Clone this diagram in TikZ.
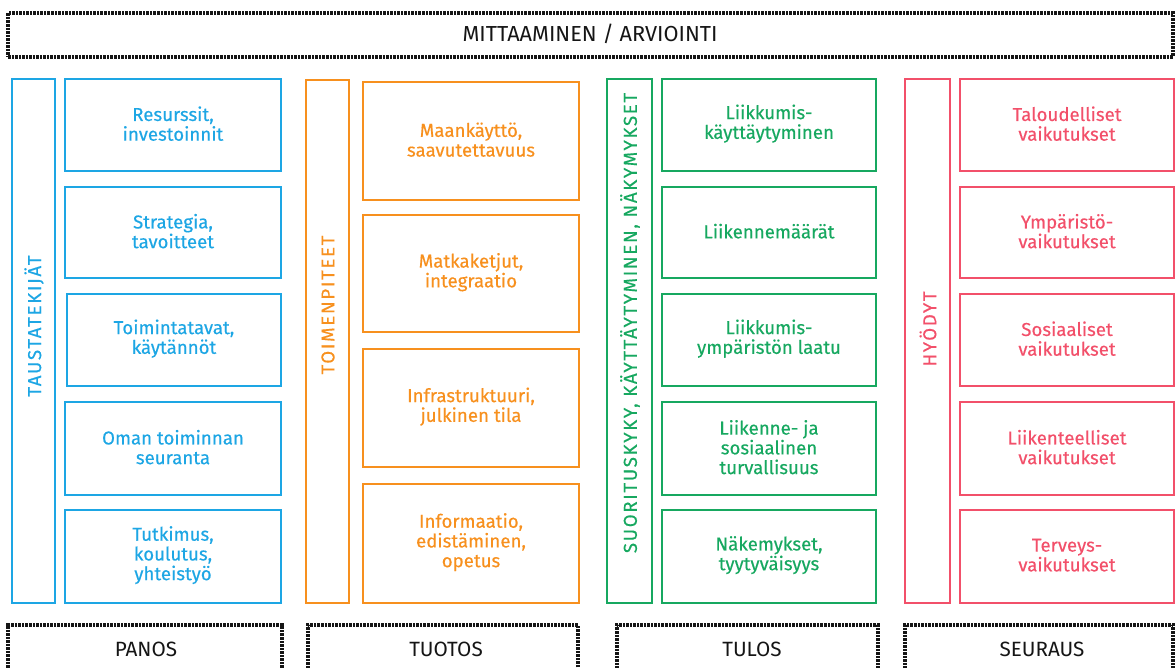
\documentclass[tikz,border=0pt]{standalone}
\usepackage{fontspec}
\setmainfont{Fira Sans}[FakeBold=0.35]
\newfontfamily\spacedfont{Fira Sans}[LetterSpace=9, FakeBold=0.35]
\newfontfamily\plainfont{Fira Sans}
\usetikzlibrary{fit}
\definecolor{cblue}{HTML}{1DA6E4}
\definecolor{corange}{HTML}{F7901E}
\definecolor{cgreen}{HTML}{17A860}
\definecolor{cred}{HTML}{F2506A}
\definecolor{cdark}{HTML}{151515}
\tikzset{
  box/.style={draw, line width=1.5pt, inner sep=0pt},
  bluebox/.style={box, draw=cblue},
  orangebox/.style={box, draw=corange},
  greenbox/.style={box, draw=cgreen},
  redbox/.style={box, draw=cred},
  txt/.style={inner sep=0pt, align=center, font=\fontsize{14}{14.8}\selectfont},
  vlabel/.style={rotate=90, inner sep=0pt, font=\spacedfont\fontsize{14}{15}\selectfont},
  dotbox/.style={draw=cdark, line width=2.8pt, dash pattern=on 1.9pt off 0.75pt, inner sep=0pt},
  dotlabel/.style={text=cdark, inner sep=0pt, font=\plainfont\fontsize{15.5}{16}\selectfont}
}
\begin{document}
\begin{tikzpicture}[x=0.75pt, y=-0.75pt]
\useasboundingbox (0,0) rectangle (1176,667);
\clip (0,0) rectangle (1176,667);
% top
\node[dotbox, fit={(8,13)(1173,57)}] (top) {};
\node[dotlabel, font=\plainfont\fontsize{16.3}{17}\selectfont] (toplab) at (590,34) {MITTAAMINEN / ARVIOINTI};
% bottom
\node[dotbox, fit={(8,625)(282,680)}] (panos) {};
\node[dotlabel] (panoslab) at (146,649) {PANOS};
\node[dotbox, fit={(308,625)(578,680)}] (tuotos) {};
\node[dotlabel] (tuotoslab) at (446,649) {TUOTOS};
\node[dotbox, fit={(617,625)(878,680)}] (tulos) {};
\node[dotlabel] (tuloslab) at (752,649) {TULOS};
\node[dotbox, fit={(905,625)(1173,680)}] (seuraus) {};
\node[dotlabel] (seurauslab) at (1042,649) {SEURAUS};

% blue column
\node[bluebox, fit={(12,79)(55,603)}] (bt) {};
\node[vlabel, text=cblue] (btl) at (34,326) {TAUSTATEKIJÄT};
\node[bluebox, fit={(65,79)(281,171)}] (b1) {};
\node[bluebox, fit={(65,187)(281,278)}] (b2) {};
\node[bluebox, fit={(67,294)(281,386)}] (b3) {};
\node[bluebox, fit={(65,402)(281,495)}] (b4) {};
\node[bluebox, fit={(65,510)(281,603)}] (b5) {};
\begin{scope}[every node/.append style={txt, text=cblue}]
\node (b1t) at ([yshift=1pt]b1.center) {Resurssit,\\investoinnit};
\node (b2t) at ([yshift=1pt]b2.center) {Strategia,\\tavoitteet};
\node (b3t) at ([yshift=1pt]b3.center) {Toimintatavat,\\käytännöt};
\node (b4t) at ([yshift=1pt]b4.center) {Oman toiminnan\\seuranta};
\node (b5t) at ([yshift=1pt]b5.center) {Tutkimus,\\koulutus,\\yhteistyö};
\end{scope}

% orange column
\node[orangebox, fit={(306,80)(349,603)}] (ot) {};
\node[vlabel, text=corange] (otl) at (328,305) {TOIMENPITEET};
\node[orangebox, fit={(363,82)(579,200)}] (o1) {};
\node[orangebox, fit={(363,215)(579,332)}] (o2) {};
\node[orangebox, fit={(363,349)(579,467)}] (o3) {};
\node[orangebox, fit={(363,484)(579,603)}] (o4) {};
\begin{scope}[every node/.append style={txt, text=corange}]
\node (o1t) at ([yshift=1pt]o1.center) {Maankäyttö,\\saavutettavuus};
\node (o2t) at ([yshift=1pt]o2.center) {Matkaketjut,\\integraatio};
\node (o3t) at ([yshift=1pt]o3.center) {Infrastruktuuri,\\julkinen tila};
\node (o4t) at ([yshift=1pt]o4.center) {Informaatio,\\edistäminen,\\opetus};
\end{scope}

% green column
\node[greenbox, fit={(607,79)(652,603)}] (gt) {};
\node[vlabel, text=cgreen] (gtl) at (630,323) {SUORITUSKYKY, KÄYTTÄYTYMINEN, NÄKYMYKSET};
\node[greenbox, fit={(662,79)(876,171)}] (g1) {};
\node[greenbox, fit={(662,187)(876,278)}] (g2) {};
\node[greenbox, fit={(662,294)(876,386)}] (g3) {};
\node[greenbox, fit={(662,402)(876,495)}] (g4) {};
\node[greenbox, fit={(662,510)(876,603)}] (g5) {};
\begin{scope}[every node/.append style={txt, text=cgreen}]
\node (g1t) at ([yshift=1pt]g1.center) {Liikkumis-\\käyttäytyminen};
\node (g2t) at ([yshift=1pt]g2.center) {Liikennemäärät};
\node (g3t) at ([yshift=1pt]g3.center) {Liikkumis-\\ympäristön laatu};
\node (g4t) at ([yshift=1pt]g4.center) {Liikenne- ja\\sosiaalinen\\turvallisuus};
\node (g5t) at ([yshift=1pt]g5.center) {Näkemykset,\\tyytyväisyys};
\end{scope}

% red column
\node[redbox, fit={(905,79)(950,603)}] (rt) {};
\node[vlabel, text=cred] (rtl) at (928,329) {HYÖDYT};
\node[redbox, fit={(960,79)(1174,171)}] (r1) {};
\node[redbox, fit={(960,187)(1174,278)}] (r2) {};
\node[redbox, fit={(960,294)(1174,386)}] (r3) {};
\node[redbox, fit={(960,402)(1174,495)}] (r4) {};
\node[redbox, fit={(960,510)(1174,603)}] (r5) {};
\begin{scope}[every node/.append style={txt, text=cred}]
\node (r1t) at ([yshift=1pt]r1.center) {Taloudelliset\\vaikutukset};
\node (r2t) at ([yshift=1pt]r2.center) {Ympäristö-\\vaikutukset};
\node (r3t) at ([yshift=1pt]r3.center) {Sosiaaliset\\vaikutukset};
\node (r4t) at ([yshift=1pt]r4.center) {Liikenteelliset\\vaikutukset};
\node (r5t) at ([yshift=1pt]r5.center) {Terveys-\\vaikutukset};
\end{scope}
\end{tikzpicture}
\end{document}
